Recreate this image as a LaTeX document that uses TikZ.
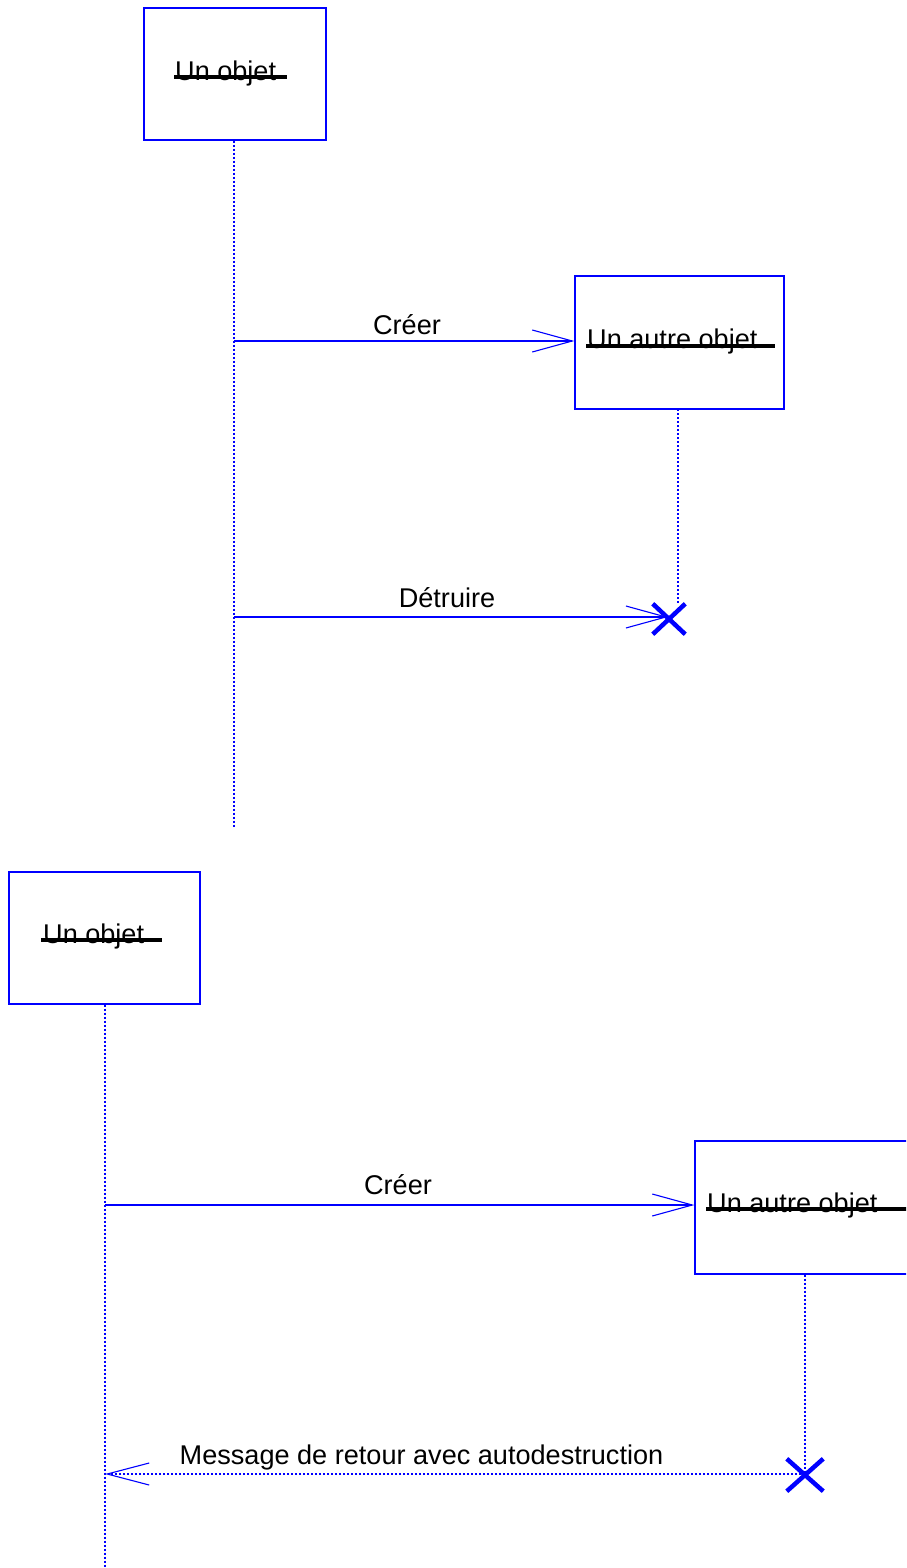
\documentclass[tikz,border=0pt]{standalone}
\usepackage{fontspec}
\setmainfont{Liberation Sans}
\usetikzlibrary{arrows.meta,shapes.misc,calc}
\tikzset{
  objbox/.style={draw=blue, line width=1.3pt, rectangle, inner sep=0pt, fill=white},
  objtext/.style={inner sep=0pt, anchor=base west, font=\fontsize{27.1}{30}\selectfont},
  msgtext/.style={inner sep=0pt, anchor=base, font=\fontsize{27.1}{30}\selectfont},
  strike/.style={draw=black, line width=3.5pt},
  lifeline/.style={draw=blue, line width=1.5pt, dash pattern=on 2pt off 2pt},
  msg/.style={draw=blue, line width=1.1pt, -{Straight Barb[length=40pt,width=22pt,line width=1.1pt]}},
  retmsg/.style={draw=blue, line width=1.5pt, dash pattern=on 2pt off 2pt, -{Straight Barb[length=42pt,width=22pt,line width=1.1pt,sep=0pt]}},
  destroy/.style={cross out, draw=blue, line width=4.5pt, inner sep=0pt}
}
\begin{document}
\begin{tikzpicture}[x=1pt,y=1pt]
\useasboundingbox (0,0) rectangle (906,-1568);
\clip (0,0) rectangle (906,-1568);
% ---------- top diagram ----------
\node[objbox, minimum width=182pt, minimum height=132pt] (o1) at (235,-74) {};
\node[objtext] (t1) at (175,-81) {Un objet};
\draw[strike] ($(t1.base west)+(-1,4)$) -- ($(t1.base west)+(112,4)$);
\coordinate (l1end) at (234,-828);
\draw[lifeline] (o1.south -| l1end) -- (l1end);

\node[objbox, minimum width=209pt, minimum height=133pt] (o2) at (679.5,-342.5) {};
\node[objtext] (t2) at (587,-348) {Un autre objet};
\draw[strike] ($(t2.base west)+(-1,2)$) -- ($(t2.base west)+(188,2)$);

\node[destroy, minimum width=28pt, minimum height=26pt] (x1) at (669,-619) {};
\coordinate (l2top) at (678,-409);
\draw[lifeline] (l2top) -- (l2top |- x1.north);

\coordinate (m1s) at (234,-341);
\draw[msg] (m1s) -- (o2.west |- m1s);
\node[msgtext] (lab1) at (407,-334) {Créer};

\coordinate (m2s) at (234,-617);
\coordinate (m2e) at (668,-617);
\draw[msg] (m2s) -- (m2e);
\node[msgtext] (lab2) at (447,-607) {Détruire};

% ---------- bottom diagram ----------
\node[objbox, minimum width=191pt, minimum height=132pt] (o3) at (104.5,-938) {};
\node[objtext] (t3) at (43,-943) {Un objet};
\draw[strike] ($(t3.base west)+(-2,3)$) -- ($(t3.base west)+(119,3)$);
\coordinate (l3end) at (105,-1568);
\draw[lifeline] (o3.south -| l3end) -- (l3end);

\node[objbox, minimum width=220pt, minimum height=133pt] (o4) at (805,-1207.5) {};
\node[objtext] (t4) at (707,-1212) {Un autre objet};
\draw[strike] ($(t4.base west)+(-1,3)$) -- ($(t4.base west)+(215,3)$);

\coordinate (m3s) at (105,-1205);
\draw[msg] (m3s) -- (o4.west |- m3s);
\node[msgtext] (lab3) at (398,-1194) {Créer};

\node[destroy, minimum width=32pt, minimum height=28pt] (x2) at (805,-1475) {};
\draw[lifeline] (o4.south) -- (x2.center);

\coordinate (m4e) at (105,-1474);
\draw[retmsg] (x2.center |- m4e) -- (m4e);
\node[msgtext] (lab4) at (421.5,-1464) {Message de retour avec autodestruction};
\end{tikzpicture}
\end{document}
